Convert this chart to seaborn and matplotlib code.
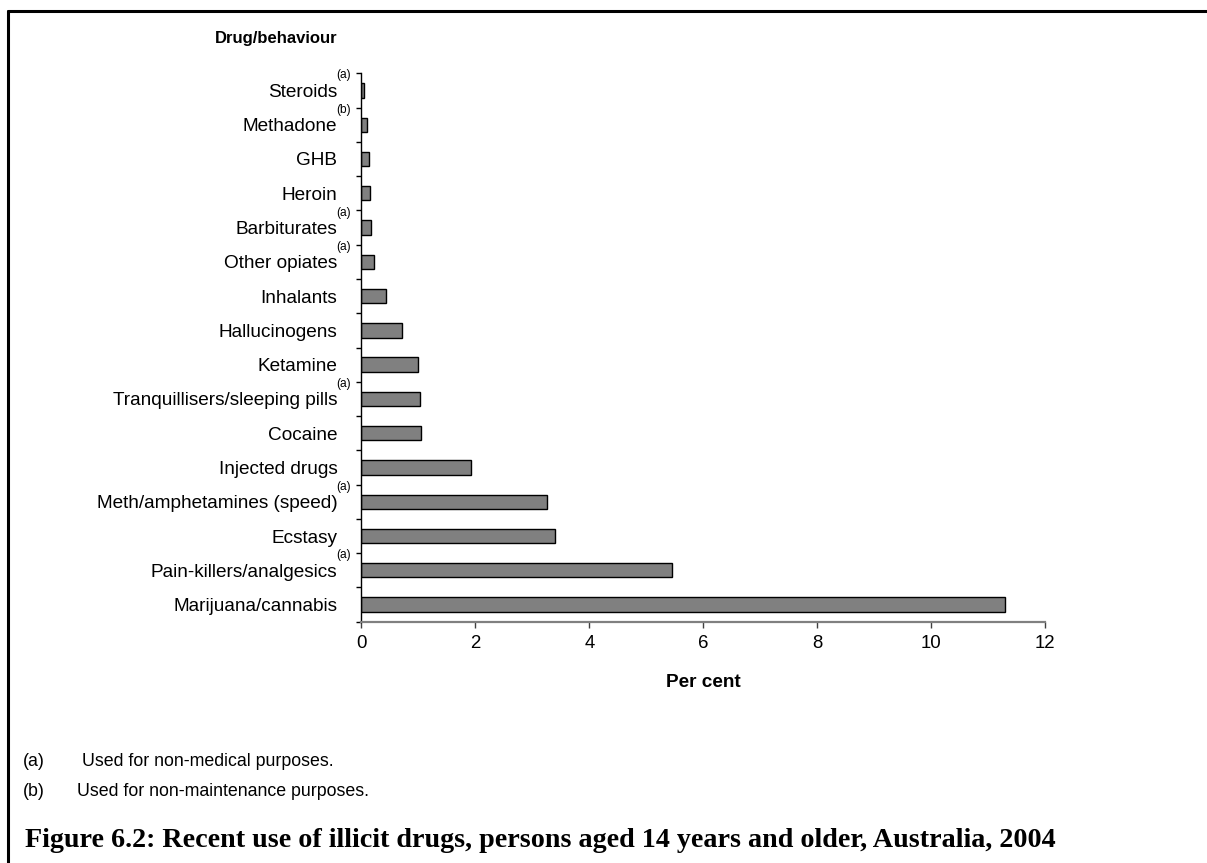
import matplotlib
matplotlib.use('Agg')
import matplotlib.pyplot as plt
import seaborn as sns
import pandas as pd
import numpy as np
from matplotlib.lines import Line2D

# ---- data ----
categories = ["Steroids", "Methadone", "GHB", "Heroin", "Barbiturates", "Other opiates",
              "Inhalants", "Hallucinogens", "Ketamine", "Tranquillisers/sleeping pills",
              "Cocaine", "Injected drugs", "Meth/amphetamines (speed)", "Ecstasy",
              "Pain-killers/analgesics", "Marijuana/cannabis"]
values = [0.04, 0.1, 0.13, 0.16, 0.17, 0.22, 0.43, 0.71, 1.0, 1.03, 1.04, 1.92, 3.25, 3.4, 5.45, 11.3]
notes = ["(a)", "(b)", "", "", "(a)", "(a)", "", "", "", "(a)", "", "", "(a)", "", "(a)", ""]
xticks = [0, 2, 4, 6, 8, 10, 12]
ylabel_text = "Drug/behaviour"
xlabel_text = "Per cent"
footnote_marks = ["(a)", "(b)"]
footnote_texts = ["Used for non-medical purposes.", "Used for non-maintenance purposes."]
title_text = "Figure 6.2: Recent use of illicit drugs, persons aged 14 years and older, Australia, 2004"

sns.set_theme(style="white")
plt.rcParams['font.family'] = ['Liberation Sans', 'DejaVu Sans']

W, H = 1207, 863
fig = plt.figure(figsize=(W / 100, H / 100), dpi=100)

def fx(x):
    return x / W

def fy(y):
    return 1 - y / H

ax_left, ax_right, ax_top, ax_bottom = 361.3, 1045.3, 73.3, 621.7
ax = fig.add_axes([fx(ax_left), fy(ax_bottom), (ax_right - ax_left) / W, (ax_bottom - ax_top) / H])

df = pd.DataFrame({"drug": categories, "pct": values})
sns.barplot(data=df, x="pct", y="drug", order=categories, color="#808080", saturation=1,
            edgecolor="black", linewidth=1.0, width=0.42, ax=ax)

ax.set_xlim(0, 12)
ax.set_ylim(len(categories) - 0.5, -0.5)
ax.set_xticks(xticks)
ax.set_xticklabels([str(t) for t in xticks])
ax.set_xlabel("")
ax.set_ylabel("")

for s in ["top", "right"]:
    ax.spines[s].set_visible(False)
ax.spines["left"].set_color("black")
ax.spines["left"].set_linewidth(1.0)
ax.spines["bottom"].set_color("#808080")
ax.spines["bottom"].set_linewidth(1.6)

ax.tick_params(axis="x", which="major", bottom=True, length=4.3, width=1, color="#404040",
               labelsize=13.4, pad=5, labelcolor="black")
ax.set_yticks(np.arange(-0.5, len(categories), 1), minor=True)
ax.tick_params(axis="y", which="major", left=True, length=0, pad=17.3, labelsize=13.7,
               labelcolor="black")
ax.tick_params(axis="y", which="minor", left=True, length=3.8, width=1, color="black")

# superscript notes
for i, n in enumerate(notes):
    if n:
        ax.annotate(n, xy=(0, i), xycoords=ax.get_yaxis_transform(), xytext=(-25, 15),
                    textcoords="offset pixels", ha="left", va="center", fontsize=8.6,
                    color="black")

fig.text(fx(337), fy(39), ylabel_text, ha="right", va="center", fontsize=12,
         fontweight="bold", color="black")
fig.text(fx((ax_left + ax_right) / 2), fy(682), xlabel_text, ha="center", va="center",
         fontsize=13.7, fontweight="bold", color="black")

fn_y = [761, 791]
fn_x = [82, 77]
for m, t, y, x in zip(footnote_marks, footnote_texts, fn_y, fn_x):
    fig.text(fx(23), fy(y), m, ha="left", va="center", fontsize=12.8, color="black")
    fig.text(fx(x), fy(y), t, ha="left", va="center", fontsize=12.8, color="black")

title = fig.text(fx(25), fy(840), title_text, ha="left", va="center", fontsize=17,
                 fontweight="bold", family=["Liberation Serif", "DejaVu Serif"], color="black")
fig.canvas.draw()
bb = title.get_window_extent()
title.set_fontsize(17 * 1032 / bb.width)

# frame lines (top and left)
fig.add_artist(Line2D([fx(8), fx(8)], [0, fy(10.7)], transform=fig.transFigure,
                      color="black", linewidth=2.2))
fig.add_artist(Line2D([fx(8), 1], [fy(10.7), fy(10.7)], transform=fig.transFigure,
                      color="black", linewidth=2.2))

fig.savefig("out.png", dpi=100, facecolor="white")
